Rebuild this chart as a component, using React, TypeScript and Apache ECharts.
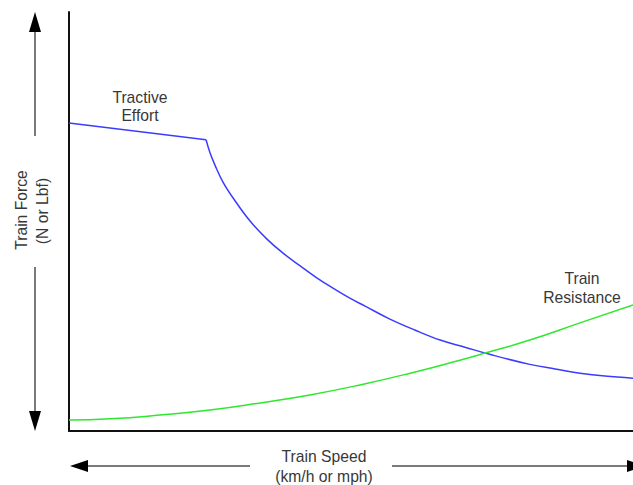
import React, { useEffect, useRef } from "react";
import * as echarts from "echarts";

// Tractive effort: constant part up to the knee, then the falling curve
const tractiveFlatSpeed = [0, 24.3];
const tractiveFlatForce = [73.5, 69.5];
const tractiveCurveSpeed = [24.3, 25.0, 25.9, 27.3, 29.1, 32.1, 35.1, 37.9, 41.0, 44.0, 46.8, 49.8, 52.5, 56.9, 61.3, 65.8, 70.2, 74.6, 81.7, 86.2, 90.6, 95.0, 100];
const tractiveCurveForce = [69.5, 66.4, 63.4, 59.4, 55.6, 50.1, 45.8, 42.5, 39.4, 36.5, 34.1, 31.7, 29.8, 26.7, 24.1, 21.7, 20.0, 18.3, 15.9, 14.8, 13.8, 13.1, 12.6];

// Train resistance
const resistSpeed = [0, 7.3, 16.1, 25.0, 33.9, 42.7, 51.6, 60.5, 69.3, 73.8, 81.7, 90.6, 100];
const resistForce = [2.6, 2.9, 3.8, 5.0, 6.7, 8.6, 11.0, 13.8, 16.9, 18.6, 21.7, 25.8, 30.1];

const tractiveLabel = ["Tractive", "Effort"];
const resistLabel = ["Train", "Resistance"];
const xTitle = ["Train Speed", "(km/h or mph)"];
const yTitle = ["Train Force", "(N or Lbf)"];

const FONT = "'Liberation Sans', Arial, sans-serif";
const TEXT_COLOR = "#383838";
const BLUE = "#3c3cff";
const GREEN = "#2ee82e";

function zip(xs: number[], ys: number[]) {
  return xs.map((x, i) => [x, ys[i]]);
}

function txt(text: string, x: number, y: number, rotation = 0) {
  return {
    type: "text",
    x,
    y,
    rotation,
    silent: true,
    style: {
      text,
      fill: TEXT_COLOR,
      font: `15.7px ${FONT}`,
      textAlign: "center",
      textVerticalAlign: "middle",
    },
  };
}

export default function App() {
  const ref = useRef<HTMLDivElement>(null);

  useEffect(() => {
    if (!ref.current) return;
    const chart = echarts.init(ref.current, null, { renderer: "svg" });
    const shaft = { stroke: "#7a7a7a", lineWidth: 2 };
    const head = { fill: "#000" };
    chart.setOption({
      animation: false,
      grid: { left: 69, right: 0, top: 12, bottom: 54 },
      xAxis: {
        type: "value",
        min: 0,
        max: 100,
        axisLine: { show: true, lineStyle: { color: "#111", width: 2 } },
        axisTick: { show: false },
        axisLabel: { show: false },
        splitLine: { show: false },
      },
      yAxis: {
        type: "value",
        min: 0,
        max: 100,
        axisLine: { show: true, lineStyle: { color: "#111", width: 2 } },
        axisTick: { show: false },
        axisLabel: { show: false },
        splitLine: { show: false },
      },
      series: [
        {
          type: "line",
          name: "Tractive Effort flat",
          data: zip(tractiveFlatSpeed, tractiveFlatForce),
          symbol: "none",
          lineStyle: { color: BLUE, width: 1.5 },
        },
        {
          type: "line",
          name: "Tractive Effort",
          data: zip(tractiveCurveSpeed, tractiveCurveForce),
          symbol: "none",
          smooth: 0.4,
          lineStyle: { color: BLUE, width: 1.5 },
        },
        {
          type: "line",
          name: "Train Resistance",
          data: zip(resistSpeed, resistForce),
          symbol: "none",
          smooth: 0.5,
          lineStyle: { color: GREEN, width: 1.5 },
        },
      ],
      graphic: [
        // vertical arrows
        { type: "line", silent: true, shape: { x1: 35, y1: 30, x2: 35, y2: 136 }, style: shaft },
        { type: "polygon", silent: true, shape: { points: [[35, 12], [29, 32], [41, 32]] }, style: head },
        { type: "line", silent: true, shape: { x1: 35, y1: 267, x2: 35, y2: 413 }, style: shaft },
        { type: "polygon", silent: true, shape: { points: [[35, 431], [29, 411], [41, 411]] }, style: head },
        // horizontal arrows
        { type: "line", silent: true, shape: { x1: 86, y1: 466, x2: 250, y2: 466 }, style: shaft },
        { type: "polygon", silent: true, shape: { points: [[70, 466], [88, 460], [88, 472]] }, style: head },
        { type: "line", silent: true, shape: { x1: 392, y1: 466, x2: 629, y2: 466 }, style: shaft },
        { type: "polygon", silent: true, shape: { points: [[645, 466], [627, 460], [627, 472]] }, style: head },
        // labels
        txt(tractiveLabel[0], 140, 97),
        txt(tractiveLabel[1], 140, 115),
        txt(resistLabel[0], 582, 278),
        txt(resistLabel[1], 582, 297),
        txt(xTitle[0], 324, 456),
        txt(xTitle[1], 324, 476),
        txt(yTitle[0], 21, 210, Math.PI / 2),
        txt(yTitle[1], 42, 211, Math.PI / 2),
      ],
    });
    return () => chart.dispose();
  }, []);

  return (
    <div
      ref={ref}
      style={{ position: "fixed", left: 0, top: 0, width: 633, height: 485, background: "#fff" }}
    />
  );
}
